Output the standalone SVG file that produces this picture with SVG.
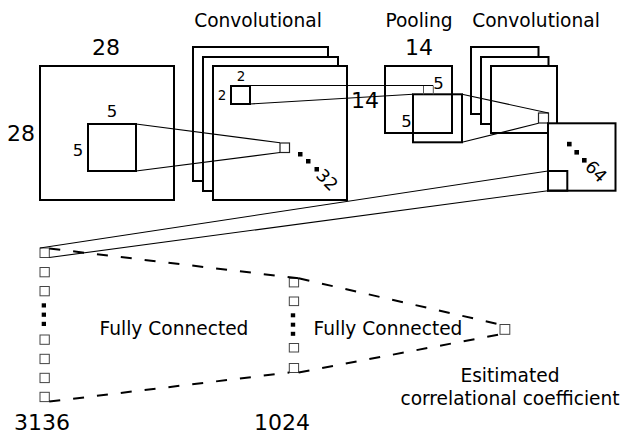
<svg xmlns="http://www.w3.org/2000/svg" width="624" height="435" viewBox="0 0 624 435">
  <style>
    text { font-family: "DejaVu Sans", Verdana, sans-serif; fill: #000; }
    .lbl { font-size: 18.6px; text-anchor: middle; }
    .big { font-size: 22px; text-anchor: middle; }
    .mid { font-size: 16.5px; text-anchor: middle; }
    .rot { font-size: 17.5px; text-anchor: middle; }
    .sm { font-size: 13.5px; text-anchor: middle; }
    .map { fill: #fff; stroke: #000; stroke-width: 2; }
    .win { fill: none; stroke: #000; stroke-width: 2; }
    .px { fill: #fff; stroke: #222; stroke-width: 1.2; }
    .neu { fill: #fff; stroke: #444; stroke-width: 1; }
    .dot { fill: #000; }
    .ln { fill: none; stroke: #000; stroke-width: 1.1; }
    .dash { fill: none; stroke: #000; stroke-width: 2; stroke-dasharray: 11 13; }
  </style>

  <!-- input image 28x28 with a 5x5 window -->
  <g id="input">
    <rect class="map" x="40" y="66" width="134" height="134"/>
    <rect class="win" x="88" y="124" width="48" height="47"/>
    <text class="big" x="106" y="55">28</text>
    <text class="big" x="21" y="141">28</text>
    <text class="mid" x="112" y="117">5</text>
    <text class="mid" x="78" y="156">5</text>
  </g>

  <!-- first convolutional layer, 32 maps -->
  <g id="conv1">
    <text class="lbl" x="258" y="27">Convolutional</text>
    <rect class="map" x="193" y="47" width="135" height="134"/>
    <rect class="map" x="203" y="57" width="135" height="134"/>
    <rect class="map" x="213" y="66" width="134" height="134"/>
    <rect class="win" x="231" y="86" width="19" height="18"/>
    <text class="sm" x="241" y="81">2</text>
    <text class="sm" x="222" y="100">2</text>
    <rect class="px" x="280" y="143" width="9.5" height="9.5"/>
    <rect class="dot" x="298" y="152" width="4.5" height="4.5"/>
    <rect class="dot" x="306" y="159" width="4.5" height="4.5"/>
    <rect class="dot" x="314.5" y="167" width="4.5" height="4.5"/>
    <text class="rot" transform="translate(327 180) rotate(45)" y="6">32</text>
  </g>

  <!-- pooling layer 14x14 -->
  <g id="pool">
    <text class="lbl" x="419" y="27">Pooling</text>
    <rect class="win" x="385" y="66" width="67" height="67"/>
    <rect class="win" x="413" y="94.3" width="49" height="48"/>
    <path fill="none" stroke="#555" stroke-width="1" d="M423.5 86V94.3M433.3 86V94.3"/>
    <text class="big" x="419" y="55">14</text>
    <text class="big" x="365" y="108">14</text>
    <text class="mid" x="438.5" y="88.5">5</text>
    <text class="mid" x="406.5" y="127">5</text>
  </g>

  <!-- second convolutional layer -->
  <g id="conv2">
    <text class="lbl" x="536" y="27">Convolutional</text>
    <rect class="map" x="471" y="47" width="67.5" height="67"/>
    <rect class="map" x="481" y="57" width="67.5" height="67"/>
    <rect class="map" x="491" y="66" width="66" height="67"/>
    <rect class="px" x="538.5" y="113" width="10" height="10"/>
  </g>

  <!-- 64 feature maps -->
  <g id="conv2-maps">
    <rect class="map" x="548" y="123.3" width="67.5" height="67.4"/>
    <rect class="win" x="548" y="171" width="19.3" height="19.7"/>
    <rect class="dot" x="567" y="141.8" width="4.6" height="4.6"/>
    <rect class="dot" x="574.4" y="150" width="4.6" height="4.6"/>
    <rect class="dot" x="582" y="158" width="4.6" height="4.6"/>
    <text class="rot" transform="translate(596 171.5) rotate(45)" y="6">64</text>
  </g>

  <!-- flattened layer, 3136 units -->
  <g id="fc1">
    <rect class="neu" x="40" y="248" width="9.3" height="9.5" stroke-width="2" stroke="#000"/>
    <rect class="neu" x="40" y="267.5" width="9.3" height="9.3"/>
    <rect class="neu" x="40" y="286.5" width="9.3" height="9.3"/>
    <rect class="dot" x="41.7" y="303.3" width="4.3" height="4.2"/>
    <rect class="dot" x="41.7" y="312.6" width="4.3" height="4.2"/>
    <rect class="dot" x="41.7" y="321.8" width="4.3" height="4.2"/>
    <rect class="neu" x="40" y="335" width="9.3" height="9.3"/>
    <rect class="neu" x="40" y="354.3" width="9.3" height="9.3"/>
    <rect class="neu" x="40" y="373.3" width="9.3" height="9.3"/>
    <rect class="neu" x="40" y="392.3" width="9.3" height="9.3"/>
    <text class="big" x="42" y="430">3136</text>
  </g>

  <!-- hidden layer, 1024 units -->
  <g id="fc2">
    <rect class="neu" x="289.3" y="278.3" width="9.3" height="8.6"/>
    <rect class="neu" x="289.3" y="297" width="9.3" height="8.6"/>
    <rect class="dot" x="290.8" y="313.3" width="4.4" height="4"/>
    <rect class="dot" x="290.8" y="322.7" width="4.4" height="4"/>
    <rect class="dot" x="290.8" y="331.8" width="4.4" height="4"/>
    <rect class="neu" x="289.3" y="343.5" width="9.3" height="8.5"/>
    <rect class="neu" x="289.3" y="363.5" width="9.3" height="9"/>
    <text class="big" x="282" y="430">1024</text>
  </g>

  <!-- output unit -->
  <g id="output">
    <rect class="neu" x="500" y="324.5" width="9.8" height="9.8"/>
    <text class="lbl" x="510" y="382">Esitimated</text>
    <text class="lbl" x="510" y="404.5">correlational coefficient</text>
  </g>

  <!-- connectors between layers -->
  <g id="connectors">
    <line class="ln" x1="136" y1="124" x2="280" y2="142.7"/>
    <line class="ln" x1="136" y1="171" x2="280" y2="152.5"/>
    <line class="ln" x1="250" y1="85.5" x2="433.3" y2="85.5" stroke="#555"/>
    <line class="ln" x1="250" y1="104" x2="413" y2="94.3"/>
    <line class="ln" x1="462" y1="94.3" x2="548.5" y2="113"/>
    <line class="ln" x1="462" y1="142.3" x2="538.5" y2="123.3"/>
    <line class="ln" x1="548" y1="171" x2="40" y2="248"/>
    <line class="ln" x1="548" y1="190.7" x2="49.3" y2="257.5"/>
    <line class="dash" x1="49.3" y1="248.5" x2="298.6" y2="278.3"/>
    <line class="dash" x1="49.3" y1="401.6" x2="289.3" y2="372.5"/>
    <line class="dash" x1="298.6" y1="278.3" x2="500" y2="324.5"/>
    <line class="dash" x1="298.6" y1="372.5" x2="500" y2="334.3"/>
  </g>

  <!-- layer captions -->
  <g id="captions">
    <text class="lbl" x="174" y="335">Fully Connected</text>
    <text class="lbl" x="388" y="335">Fully Connected</text>
  </g>
</svg>
